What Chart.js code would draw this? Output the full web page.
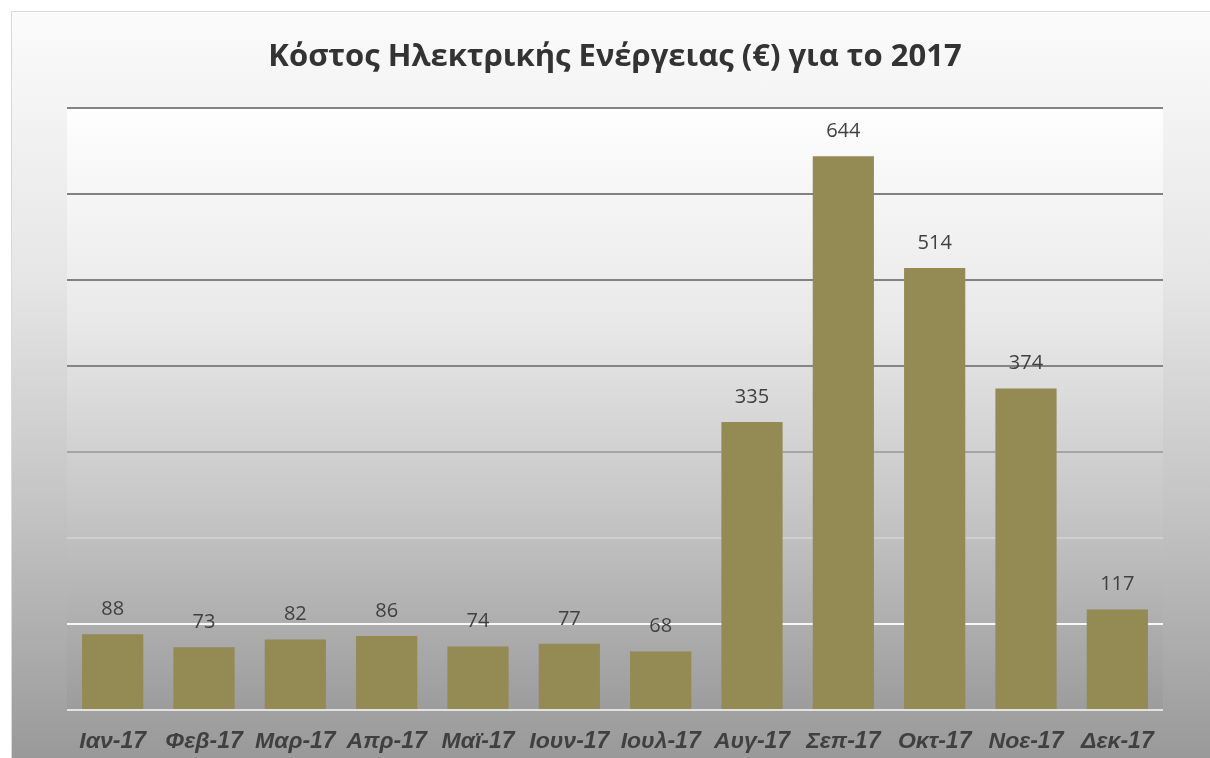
<!DOCTYPE html>
<html>
<head>
<meta charset="utf-8">
<script src="https://cdn.jsdelivr.net/npm/chart.js@4.4.1/dist/chart.umd.min.js"></script>
<style>
    html, body { margin: 0; padding: 0; background: #fff; overflow: hidden; }
    #frame {
        position: absolute; left: 11px; top: 11px; width: 1210px; height: 760px;
        border-left: 1px solid #d9d9d9; border-top: 1px solid #d9d9d9;
        background: linear-gradient(to bottom, #fbfbfb 0%, #e6e6e6 35%, #c4c4c4 65%, #979797 100%);
    }
    #wrap { position: absolute; left: 0; top: 0; width: 1210px; height: 758px; }
</style>
</head>
<body>
<div id="frame"></div>
<div id="wrap"><canvas id="costChart" width="1210" height="758"></canvas></div>
<script>
// Data
const months = ['Ιαν-17', 'Φεβ-17', 'Μαρ-17', 'Απρ-17', 'Μαϊ-17', 'Ιουν-17', 'Ιουλ-17', 'Αυγ-17', 'Σεπ-17', 'Οκτ-17', 'Νοε-17', 'Δεκ-17'];
const costs = [88, 73, 82, 86, 74, 77, 68, 335, 644, 514, 374, 117];
const yTicks = [0, 100, 200, 300, 400, 500, 600, 700];

// grid line colour per tick value (dark at top, fading to white near the bottom)
const gridColors = { 0: '#e2e2e2', 100: '#f7f7f7', 200: '#cfcfcf', 300: '#a5a5a5', 400: '#858585', 500: '#818181', 600: '#818181', 700: '#838383' };

const plotBackground = {
    id: 'plotBackground',
    beforeDraw(chart) {
        const { ctx, chartArea: a } = chart;
        const g = ctx.createLinearGradient(0, a.top, 0, a.bottom);
        g.addColorStop(0, '#fefefe');
        g.addColorStop(0.35, '#e9e9e9');
        g.addColorStop(0.65, '#c8c8c8');
        g.addColorStop(1, '#9c9c9c');
        ctx.save();
        ctx.fillStyle = g;
        ctx.fillRect(a.left, a.top, a.right - a.left, a.bottom - a.top);
        ctx.restore();
    }
};

const valueLabels = {
    id: 'valueLabels',
    afterDatasetsDraw(chart) {
        const { ctx } = chart;
        const meta = chart.getDatasetMeta(0);
        ctx.save();
        ctx.font = '20px "Open Sans"';
        ctx.fillStyle = '#404040';
        ctx.textAlign = 'center';
        ctx.textBaseline = 'middle';
        meta.data.forEach((bar, i) => {
            ctx.fillText(costs[i], bar.x, bar.y - 25);
        });
        ctx.restore();
    }
};

new Chart(document.getElementById('costChart').getContext('2d'), {
    type: 'bar',
    data: {
        labels: months,
        datasets: [{
            data: costs,
            backgroundColor: '#948a54',
            barPercentage: 0.67,
            categoryPercentage: 1
        }]
    },
    options: {
        responsive: false,
        animation: false,
        layout: { padding: { left: 67, right: 47, top: 19, bottom: 0 } },
        plugins: {
            legend: { display: false },
            tooltip: { enabled: false },
            title: {
                display: true,
                text: 'Κόστος Ηλεκτρικής Ενέργειας (€) για το 2017',
                color: '#333333',
                font: { family: '"Open Sans"', size: 31, weight: 'bold', lineHeight: 1.2 },
                padding: { top: 20, bottom: 32 }
            }
        },
        scales: {
            x: {
                afterFit: axis => { axis.height = 48; },
                grid: { display: false, drawTicks: false },
                border: { display: false },
                ticks: {
                    color: '#404040',
                    padding: 18,
                    maxRotation: 0,
                    font: { family: '"Liberation Sans", Arial', size: 23, weight: 'bold', style: 'italic', lineHeight: 1.2 }
                }
            },
            y: {
                min: 0,
                max: 700,
                afterBuildTicks: axis => { axis.ticks = yTicks.map(v => ({ value: v })); },
                grid: {
                    color: c => gridColors[c.tick.value] || '#888',
                    lineWidth: 2,
                    drawTicks: false
                },
                border: { display: false },
                ticks: { display: false }
            }
        }
    },
    plugins: [plotBackground, valueLabels]
});
</script>
</body>
</html>
